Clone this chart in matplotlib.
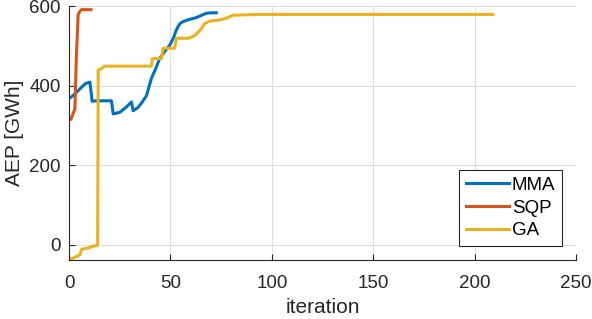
import numpy as np
import matplotlib
matplotlib.use('Agg')
import matplotlib.pyplot as plt

plt.rcParams['font.family'] = ['Liberation Sans', 'DejaVu Sans']

# values
mma_x = [1, 3, 6, 8, 10.3, 11.4, 15, 20.9, 21.8, 25, 28, 30.8, 31.6, 34, 36, 38.2, 40.6, 42.5, 44.7, 47, 49.7, 51.5, 52.9, 54.5, 56.2, 59, 62.8, 65, 67.7, 70, 72.6]
mma_y = [371, 380, 395, 405, 409, 361, 362, 362, 329, 333, 345, 359, 337, 345, 358, 375, 418, 440, 468, 485, 502, 520, 540, 555, 561, 566, 571, 576, 582, 583, 583]

sqp_x = [1, 2.9, 3.6, 4.5, 5.2, 6.2, 8, 10.8]
sqp_y = [316, 342, 470, 578, 586, 591, 591, 591]

ga_x = [0.8, 3, 5.4, 6.2, 9.5, 11.2, 14.1, 14.4, 16, 17.7, 40.6, 41.1, 45.6, 46.4, 52, 53, 58.7, 60.3, 62, 63.6, 65.2, 66.9, 69.3, 74.2, 77.5, 80.8, 94, 120, 209]
ga_y = [-36, -31, -25, -11, -8, -4, -1, 439, 443, 449, 449, 468, 468, 494, 494, 519, 519, 522, 526, 534, 543, 556, 562, 565, 569, 577, 579, 579, 579]

series = [('MMA', mma_x, mma_y, '#0072BD'),
          ('SQP', sqp_x, sqp_y, '#D95319'),
          ('GA', ga_x, ga_y, '#EDB120')]

fig = plt.figure(figsize=(5.92, 3.19), dpi=100)
ax = fig.add_axes([0.1166, 0.185, 0.8564, 0.796])

for name, x, y, c in series:
    ax.plot(x, y, color=c, lw=2.2, label=name)

ax.set_xlim(0, 250)
ax.set_ylim(-38, 600)
ax.set_xticks([0, 50, 100, 150, 200, 250])
ax.set_yticks([0, 200, 400, 600])
ax.grid(True, color='#dedede', lw=0.8)
ax.set_axisbelow(True)
for s in ['top', 'right']:
    ax.spines[s].set_visible(False)
for s in ['left', 'bottom']:
    ax.spines[s].set_color('#262626')
    ax.spines[s].set_linewidth(0.8)
ax.tick_params(direction='in', length=4, width=0.8, color='#262626',
               labelsize=13.5, labelcolor='#262626')
ax.tick_params(axis='x', pad=11)
ax.tick_params(axis='y', pad=6)
ax.set_xlabel('iteration', fontsize=15, color='#262626', labelpad=4)
ax.set_ylabel('AEP [GWh]', fontsize=15, color='#262626', labelpad=4)

leg = ax.legend(loc='lower right', fontsize=13.5, fancybox=False, framealpha=1,
                edgecolor='#262626', borderpad=0.35, labelspacing=0.3,
                handlelength=2.3, handletextpad=0.15, borderaxespad=0.75)
leg.get_frame().set_linewidth(0.8)

fig.savefig('out.png', dpi=100)
